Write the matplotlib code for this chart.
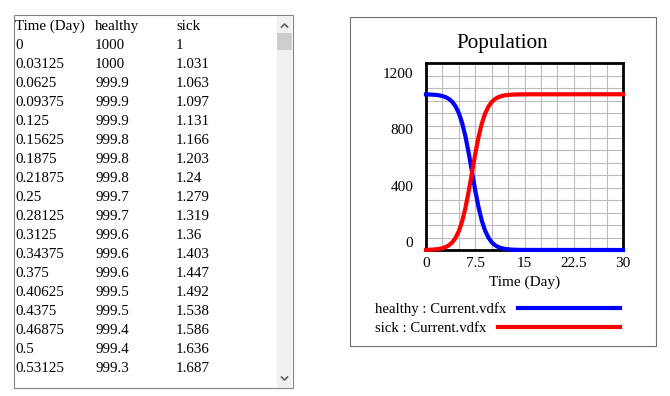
import matplotlib
matplotlib.use('Agg')
import matplotlib.pyplot as plt
from matplotlib.patches import Rectangle
from matplotlib.lines import Line2D
from matplotlib.ticker import MultipleLocator

# table listing (first rows of the run)
tbl_time = [0, 0.03125, 0.0625, 0.09375, 0.125, 0.15625, 0.1875, 0.21875, 0.25,
            0.28125, 0.3125, 0.34375, 0.375, 0.40625, 0.4375, 0.46875, 0.5, 0.53125]
tbl_healthy = [1000, 1000, 999.9, 999.9, 999.9, 999.8, 999.8, 999.8, 999.7,
               999.7, 999.6, 999.6, 999.6, 999.5, 999.5, 999.4, 999.4, 999.3]
tbl_sick = [1, 1.031, 1.063, 1.097, 1.131, 1.166, 1.203, 1.24, 1.279,
            1.319, 1.36, 1.403, 1.447, 1.492, 1.538, 1.586, 1.636, 1.687]

# curves
t = [0, 0.5, 1, 1.5, 2, 2.5, 3, 3.5, 4, 4.5, 5, 5.5, 6, 6.5, 7, 7.5, 8, 8.5,
     9, 9.5, 10, 10.5, 11, 11.5, 12, 12.5, 13, 13.5, 14, 15, 30]
sick = [1, 1.6, 2.7, 4.4, 7.1, 11.6, 18.9, 30.5, 49, 78, 121, 184, 270, 377,
        497, 618, 726, 813, 877, 921, 951, 970, 982, 989, 994, 996.5, 998.3,
        999.3, 1000, 1000.6, 1001]
healthy = [1000, 999.4, 998.3, 996.6, 993.9, 989.4, 982.1, 970.5, 952, 923, 880,
           817, 731, 624, 504, 383, 275, 188, 124, 80, 50, 31, 19.3, 11.9, 7.3,
           4.5, 2.7, 1.7, 1.0, 0.4, 0]
yticks = [0, 400, 800, 1200]
xticks = [0, 7.5, 15, 22.5, 30]

W, H = 670, 396
plt.rcParams['font.family'] = 'Liberation Serif'


def fx(x):
    return x / W


def fy(y):
    return 1 - y / H


fig = plt.figure(figsize=(W / 100, H / 100), dpi=100)

# ---- left: table list box
fig.patches.append(Rectangle((fx(14), fy(388)), (293 - 14) / W, (388 - 15) / H,
                             transform=fig.transFigure, facecolor='white',
                             edgecolor='#828282', lw=0.8, zorder=-2))
fig.patches.append(Rectangle((fx(277), fy(387.5)), 15 / W, 372 / H, transform=fig.transFigure,
                             facecolor='#f0f0f0', edgecolor='none', zorder=-1))
fig.patches.append(Rectangle((fx(277), fy(50)), 15 / W, 17 / H, transform=fig.transFigure,
                             facecolor='#cdcdcd', edgecolor='none', zorder=-1))
fig.lines.append(Line2D([fx(281.5), fx(284.5), fx(287.5)], [fy(27), fy(24), fy(27)],
                        transform=fig.transFigure, color='#606060', lw=1.2))
fig.lines.append(Line2D([fx(281.5), fx(284.5), fx(287.5)], [fy(377), fy(380), fy(377)],
                        transform=fig.transFigure, color='#606060', lw=1.2))

cols = [15, 95, 176]
for c, h in zip(cols, ['Time (Day)', 'healthy', 'sick']):
    fig.text(fx(c), fy(26.5), h, va='center', fontsize=10.8)
for i in range(len(tbl_time)):
    row_y = fy(45.5 + 19 * i)
    for c, v in zip(cols, [tbl_time[i], tbl_healthy[i], tbl_sick[i]]):
        fig.text(fx(c), row_y, '{:g}'.format(v), va='center', fontsize=10.8)

# ---- right: graph panel
fig.patches.append(Rectangle((fx(350), fy(346)), (656 - 350) / W, (346 - 17) / H,
                             transform=fig.transFigure, facecolor='white',
                             edgecolor='#6e6e6e', lw=0.8, zorder=-2))
fig.text(fx(502), fy(43.5), 'Population', ha='center', va='center', fontsize=15.2)

ax = fig.add_axes([fx(426), fy(250), 197 / W, 186.7 / H])
ax.plot(t, healthy, color='#0000ff', lw=3, zorder=3, clip_on=False)
ax.plot(t, sick, color='#ff0000', lw=3, zorder=3, clip_on=False)
ax.set_xlim(0, 30)
ax.set_ylim(0, 1200)

ax.set_xticks(xticks)
ax.set_xticklabels(['{:g}'.format(v) for v in xticks])
ax.xaxis.set_minor_locator(MultipleLocator(2.5))
# Vensim squeezes the y labels inside the frame
ax.set_yticks([52 + v * 0.905 for v in yticks])
ax.set_yticklabels([str(v) for v in yticks])
ax.yaxis.set_minor_locator(MultipleLocator(80))
ax.tick_params(which='both', length=0, labelsize=11)
ax.tick_params(axis='x', pad=5)
ax.tick_params(axis='y', pad=9)
ax.grid(axis='x', which='both', color='#bcbcbc', lw=0.8)
ax.grid(axis='y', which='minor', color='#bcbcbc', lw=0.8)
ax.grid(axis='y', which='major', visible=False)
ax.set_axisbelow(True)
for s in ax.spines.values():
    s.set_linewidth(2)
ax.set_xlabel('Time (Day)', fontsize=11, labelpad=4)

# legend lines drawn right of each label
fig.canvas.draw()
r = fig.canvas.get_renderer()
for lab, col, ly in [('healthy : Current.vdfx', '#0000ff', 309),
                     ('sick : Current.vdfx', '#ff0000', 328)]:
    tx = fig.text(fx(375), fy(ly), lab, va='center', fontsize=10.6)
    bb = tx.get_window_extent(r)
    fig.lines.append(Line2D([fx(bb.x1 + 12), fx(620)], [fy(ly - 1), fy(ly - 1)],
                            transform=fig.transFigure, color=col, lw=3))

fig.savefig('out.png', dpi=100)
